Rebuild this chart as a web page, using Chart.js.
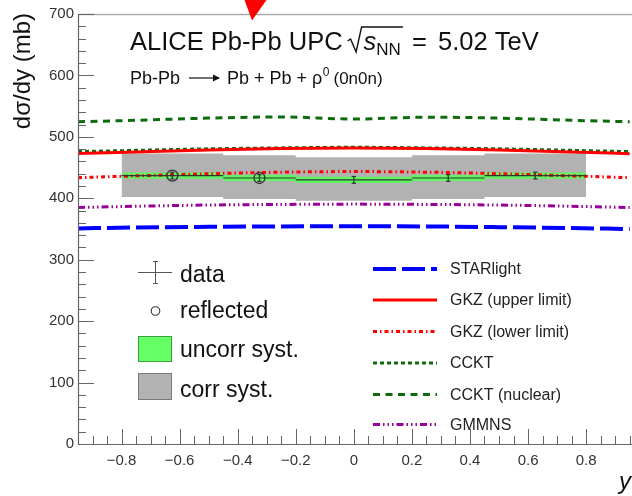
<!DOCTYPE html>
<html><head><meta charset="utf-8">
<script src="https://cdn.jsdelivr.net/npm/chart.js@4.4.1/dist/chart.umd.min.js"></script>
<style>html,body{margin:0;padding:0;background:#fff;overflow:hidden}canvas{display:block}</style>
</head><body>
<canvas id="c" width="632" height="496"></canvas>
<script>
// ---- tick labels ----
const xTickValues = [-0.8, -0.6, -0.4, -0.2, 0, 0.2, 0.4, 0.6, 0.8];
const yTickValues = [0, 100, 200, 300, 400, 500, 600, 700];

// ---- model curves (sampled in rapidity y) ----
const modelRapidity = [-0.95, -0.75, -0.5, -0.25, 0, 0.25, 0.5, 0.75, 0.95];
const starlight   = [351, 352.5, 353.5, 354.2, 354.5, 354.2, 353, 351.5, 350];
const gkzUpper    = [473, 475.5, 478.5, 481, 482, 481, 478.5, 475.5, 472.5];
const gkzLower    = [433.5, 436.5, 440, 442.5, 443.5, 442.5, 440, 436.5, 433.5];
const cckt        = [476, 478, 480.5, 482, 483, 482, 480.5, 478, 476];
const ccktNuclear = [524.5, 527, 530.5, 532.5, 529, 532, 530.5, 527, 524.5];
const gmmns       = [385, 387, 389, 390, 390.5, 390, 389, 387, 385];

// ---- measurement ----
const binLow      = [-0.8, -0.45, -0.2, 0.2, 0.45];
const binHigh     = [-0.45, -0.2, 0.2, 0.45, 0.8];
const binCenter   = [-0.625, -0.325, 0, 0.325, 0.625];
const dataValue   = [437, 433, 430, 433, 437];
const statError   = [5.5, 5.5, 5.5, 5.5, 5.5];
const uncorrError = [5, 5, 5, 5, 5];
const corrHigh    = [473, 470, 467, 470, 473];
const corrLow     = [402, 399, 396, 399, 402];
const isReflected = [true, true, false, false, false];

const FONT = '"Liberation Sans", Arial, Helvetica, sans-serif';

function steps(vals) {
  const out = [];
  vals.forEach((v, i) => { out.push({x: binLow[i], y: v}); out.push({x: binHigh[i], y: v}); });
  return out;
}
function curve(vals) { return modelRapidity.map((x, i) => ({x, y: vals[i]})); }

const xErrPts = [], yErrPts = [], reflPts = [];
binCenter.forEach((c, i) => {
  xErrPts.push({x: binLow[i], y: dataValue[i]}, {x: binHigh[i], y: dataValue[i]}, {x: binHigh[i], y: null});
  yErrPts.push({x: c, y: dataValue[i] - statError[i]}, {x: c, y: dataValue[i] + statError[i]}, {x: c, y: null});
  if (isReflected[i]) reflPts.push({x: c, y: dataValue[i]});
});

const base = {pointRadius: 0, pointHoverRadius: 0, tension: 0, fill: false};
const band = (data, order, extra) => Object.assign({}, base, {data, order, borderWidth: 0, borderColor: 'rgba(0,0,0,0)'}, extra || {});
const model = (label, vals, color, width, dash) => Object.assign({}, base, {
  label, data: curve(vals), borderColor: color, borderWidth: width, borderDash: dash,
  cubicInterpolationMode: 'monotone', order: 5, isModel: true, borderCapStyle: 'butt'
});

const datasets = [
  band(steps(corrLow), 10),
  band(steps(corrHigh), 10, {fill: '-1', backgroundColor: '#b2b2b2'}),
  band(steps(dataValue.map((v, i) => v - uncorrError[i])), 9),
  band(steps(dataValue.map((v, i) => v + uncorrError[i])), 9, {fill: '-1', backgroundColor: '#62f562'}),
  model('STARlight', starlight, '#0000ff', 4, [23, 6]),
  model('GKZ (upper limit)', gkzUpper, '#ff0000', 3, []),
  model('GKZ (lower limit)', gkzLower, '#ff0000', 3, [4, 3, 1.5, 3]),
  model('CCKT', cckt, '#0d6a0d', 3, [4, 3]),
  model('CCKT (nuclear)', ccktNuclear, '#0d6a0d', 3, [7, 5.5]),
  model('GMMNS', gmmns, '#990099', 3, [7, 3, 1.5, 3, 1.5, 3, 1.5, 3]),
  Object.assign({}, base, {data: xErrPts, borderColor: '#333', borderWidth: 1.2, spanGaps: false, order: 2}),
  Object.assign({}, base, {data: yErrPts, borderColor: '#333', borderWidth: 1.2, spanGaps: false, order: 1,
    pointRadius: 2.2, pointStyle: 'line', pointBorderColor: '#333', pointBorderWidth: 1.2}),
  Object.assign({}, base, {data: reflPts, showLine: false, order: 0, pointRadius: 5.5, pointStyle: 'circle',
    pointBorderColor: '#333', pointBackgroundColor: 'rgba(0,0,0,0)', pointBorderWidth: 1.3})
];

const fmt = v => v < 0 ? '\u2212' + String(Math.abs(v)) : String(v);

function arrow(ctx, x0, x1, yy) {
  ctx.save(); ctx.lineWidth = 1.2;
  ctx.beginPath(); ctx.moveTo(x0, yy); ctx.lineTo(x1 - 1, yy); ctx.stroke();
  ctx.beginPath(); ctx.moveTo(x1, yy); ctx.lineTo(x1 - 7, yy - 3.5); ctx.lineTo(x1 - 7, yy + 3.5); ctx.closePath(); ctx.fill();
  ctx.restore();
}

const decor = {
  id: 'decor',
  beforeDraw(chart) {
    const ctx = chart.ctx; ctx.save(); ctx.fillStyle = '#fff'; ctx.fillRect(0, 0, chart.width, chart.height); ctx.restore();
  },
  afterDatasetsDraw(chart) {
    const {ctx, chartArea: a, scales: {x, y}} = chart;
    ctx.save();
    ctx.strokeStyle = '#aaa'; ctx.lineWidth = 1.5;
    ctx.beginPath(); ctx.moveTo(a.left, a.top + 0.5); ctx.lineTo(a.right, a.top + 0.5); ctx.stroke();
    ctx.strokeStyle = '#666'; ctx.lineWidth = 1.2;
    ctx.beginPath(); ctx.moveTo(a.left + 0.5, a.top); ctx.lineTo(a.left + 0.5, a.bottom + 0.5);
    ctx.lineTo(a.right, a.bottom + 0.5); ctx.stroke();
    ctx.lineWidth = 1;
    ctx.beginPath();
    for (let k = 0; k <= 35; k++) {
      const py = Math.round(y.getPixelForValue(k * 20)) + 0.5;
      const len = (k % 5 === 0) ? 16 : 8;
      ctx.moveTo(a.left, py); ctx.lineTo(a.left + len, py);
    }
    for (let k = -19; k <= 19; k++) {
      const v = k * 0.05;
      if (v < x.min - 1e-9 || v > x.max + 1e-9) continue;
      const px = Math.round(x.getPixelForValue(v)) + 0.5;
      const len = (k % 4 === 0) ? 15 : 8;
      ctx.moveTo(px, a.bottom); ctx.lineTo(px, a.bottom - len);
    }
    ctx.stroke();
    ctx.restore();
  },
  afterDraw(chart) {
    const ctx = chart.ctx;
    ctx.save();
    ctx.fillStyle = '#111'; ctx.strokeStyle = '#111';
    ctx.textBaseline = 'alphabetic'; ctx.textAlign = 'left';
    // Title
    const tb = 50;
    ctx.font = '25.5px ' + FONT;
    ctx.fillText('ALICE Pb-Pb UPC', 130, tb);
    let tx = 130 + ctx.measureText('ALICE Pb-Pb UPC').width + 5;
    ctx.font = 'italic 25.5px ' + FONT; const sw = ctx.measureText('s').width;
    ctx.font = '17px ' + FONT; const nw = ctx.measureText('NN').width;
    ctx.lineWidth = 1.4;
    ctx.beginPath();
    ctx.moveTo(tx, tb - 9); ctx.lineTo(tx + 3, tb - 11); ctx.lineTo(tx + 8.5, tb + 2);
    ctx.lineTo(tx + 14, tb - 23); ctx.lineTo(tx + 16 + sw + nw + 2, tb - 23);
    ctx.stroke();
    tx += 16;
    ctx.font = 'italic 25.5px ' + FONT; ctx.fillText('s', tx, tb); tx += sw;
    ctx.font = '17px ' + FONT; ctx.fillText('NN', tx, tb + 5);
    ctx.font = '25.5px ' + FONT;
    ctx.fillText('=', 412, tb);
    ctx.fillText('5.02 TeV', 438, tb);
    // Subtitle
    const sb = 84;
    ctx.font = '18px ' + FONT;
    ctx.fillText('Pb-Pb', 130, sb);
    arrow(ctx, 189, 220, sb - 6);
    const s1 = 'Pb + Pb + \u03C1';
    ctx.fillText(s1, 227, sb);
    let sx = 227 + ctx.measureText(s1).width + 0.5;
    ctx.font = '12px ' + FONT; ctx.fillText('0', sx, sb - 8); sx += ctx.measureText('0').width;
    ctx.font = '17px ' + FONT; ctx.fillText('(0n0n)', sx + 4, sb);
    // Y axis title
    ctx.save();
    ctx.translate(30, 13); ctx.rotate(-Math.PI / 2);
    ctx.font = '24px ' + FONT; ctx.textAlign = 'right'; ctx.fillStyle = '#111';
    ctx.fillText('d\u03C3/dy (mb)', 0, 0);
    ctx.restore();
    // X axis title
    ctx.font = 'italic 24px ' + FONT; ctx.textAlign = 'right';
    ctx.fillText('y', 631, 489);
    ctx.textAlign = 'left';
    // Left legend
    ctx.font = '23px ' + FONT; ctx.fillStyle = '#111';
    ctx.fillText('data', 180, 282);
    ctx.fillText('reflected', 180, 318);
    ctx.fillText('uncorr syst.', 180, 357);
    ctx.fillText('corr syst.', 180, 396.5);
    ctx.strokeStyle = '#555'; ctx.lineWidth = 1;
    ctx.beginPath();
    ctx.moveTo(138, 272.5); ctx.lineTo(172, 272.5);
    ctx.moveTo(155.5, 261); ctx.lineTo(155.5, 283);
    ctx.moveTo(153, 261.5); ctx.lineTo(158, 261.5);
    ctx.moveTo(153, 283.5); ctx.lineTo(158, 283.5);
    ctx.stroke();
    ctx.strokeStyle = '#333'; ctx.lineWidth = 1.1;
    ctx.beginPath(); ctx.arc(155.5, 311, 4.3, 0, Math.PI * 2); ctx.stroke();
    ctx.fillStyle = '#66ff66'; ctx.fillRect(138, 336, 34, 26);
    ctx.strokeStyle = '#3f9f3f'; ctx.lineWidth = 1; ctx.strokeRect(138.5, 336.5, 33, 25);
    ctx.fillStyle = '#b2b2b2'; ctx.fillRect(138, 373, 34, 27);
    ctx.strokeStyle = '#7a7a7a'; ctx.strokeRect(138.5, 373.5, 33, 26);
    // Right legend
    const rows = [269, 300, 331.5, 363, 394.5, 424.5];
    const models = chart.data.datasets.filter(d => d.isModel);
    ctx.font = '16px ' + FONT; ctx.textBaseline = 'middle';
    models.forEach((d, i) => {
      ctx.save();
      ctx.strokeStyle = d.borderColor; ctx.lineWidth = d.borderWidth; ctx.setLineDash(d.borderDash || []);
      ctx.lineCap = 'butt';
      ctx.beginPath(); ctx.moveTo(373, rows[i]); ctx.lineTo(437, rows[i]); ctx.stroke();
      ctx.restore();
      ctx.fillStyle = '#222';
      ctx.fillText(d.label, 450, rows[i] + 1);
    });
    // red marker triangle at top
    ctx.fillStyle = '#ff0000';
    ctx.beginPath(); ctx.moveTo(244.5, 0); ctx.lineTo(266.5, 0); ctx.lineTo(252, 20.5); ctx.closePath(); ctx.fill();
    ctx.restore();
  }
};

new Chart(document.getElementById('c'), {
  type: 'line',
  data: {datasets},
  options: {
    responsive: false, animation: false, devicePixelRatio: 1,
    layout: {autoPadding: false, padding: {top: 14, left: 0, right: 0, bottom: 0}},
    plugins: {legend: {display: false}, tooltip: {enabled: false}},
    events: [],
    scales: {
      x: {
        type: 'linear', min: -0.95, max: 0.958,
        afterBuildTicks: s => { s.ticks = xTickValues.map(v => ({value: v})); },
        afterFit: s => { s.height = 52; s.paddingLeft = 0; s.paddingRight = 0; },
        grid: {display: false, drawTicks: false}, border: {display: false},
        ticks: {callback: v => fmt(v), font: {size: 15, family: FONT}, color: '#333', padding: 8, maxRotation: 0, autoSkip: false}
      },
      y: {
        type: 'linear', min: 0, max: 700,
        afterBuildTicks: s => { s.ticks = yTickValues.map(v => ({value: v})); },
        afterFit: s => { s.width = 78; s.paddingTop = 0; s.paddingBottom = 0; },
        grid: {display: false, drawTicks: false}, border: {display: false},
        ticks: {callback: v => String(v), font: {size: 15, family: FONT}, color: '#333', padding: 4, autoSkip: false}
      }
    }
  },
  plugins: [decor]
});
</script>
</body></html>
